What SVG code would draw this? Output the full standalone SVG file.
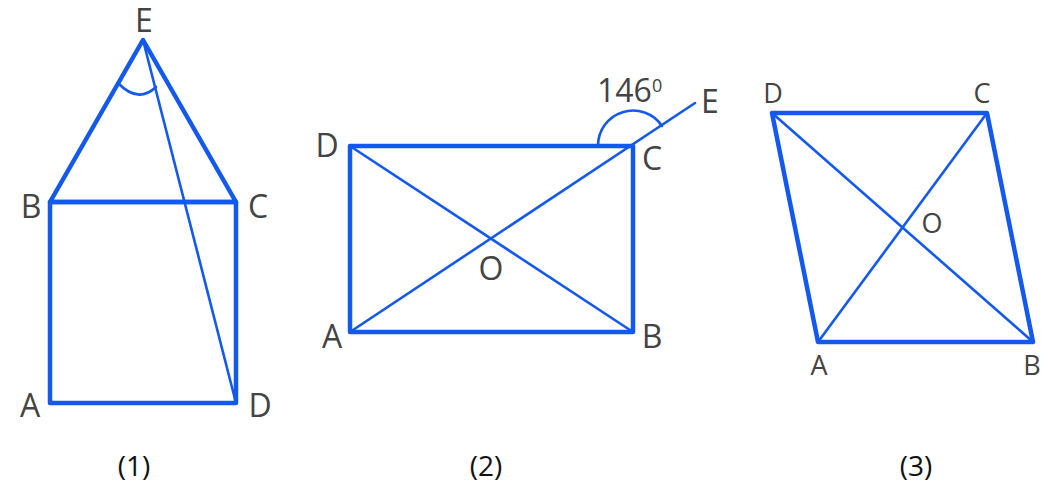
<svg xmlns="http://www.w3.org/2000/svg" width="1046" height="500" viewBox="0 0 1046 500">
<style>
.thick{stroke:#1459ee;stroke-width:4.5;fill:none;stroke-linejoin:round;stroke-linecap:round}
.thin{stroke:#1459ee;stroke-width:2.6;fill:none;stroke-linecap:round}
.lbl{font-family:"Open Sans","Liberation Sans",sans-serif;fill:#444;font-size:32px}
.lbl3{font-family:"Open Sans","Liberation Sans",sans-serif;fill:#444;font-size:27px}
.cap{font-family:"Open Sans","Liberation Sans",sans-serif;fill:#111;font-size:28px;text-anchor:middle}
</style>
<rect width="1046" height="500" fill="#fff"/>
<g id="connectors">
  <!-- figure 1 -->
  <polygon class="thick" points="50,202 143,40 236,202"/>
  <rect class="thick" x="50" y="202" width="186" height="201"/>
  <line class="thin" x1="143" y1="40" x2="236" y2="403"/>
  <path class="thin" d="M118,83 Q138,104 156,87"/>
  <!-- figure 2 -->
  <rect class="thick" x="350" y="146" width="283" height="186"/>
  <line class="thin" x1="350" y1="146" x2="633" y2="332"/>
  <line class="thin" x1="350" y1="332" x2="695" y2="103"/>
  <path class="thin" d="M598,146 A35,35 0 0 1 662,126"/>
  <!-- figure 3 -->
  <polygon class="thick" points="772,113 987,113 1033,342 818,342"/>
  <line class="thin" x1="772" y1="113" x2="1033" y2="342"/>
  <line class="thin" x1="818" y1="342" x2="987" y2="113"/>
</g>
<g id="fig1">
  <text class="lbl" x="144" y="32" text-anchor="middle">E</text>
  <text class="lbl" x="31" y="218" text-anchor="middle">B</text>
  <text class="lbl" x="258" y="218" text-anchor="middle">C</text>
  <text class="lbl" x="30" y="417" text-anchor="middle">A</text>
  <text class="lbl" x="260" y="417" text-anchor="middle">D</text>
  <text class="cap" x="134" y="476">(1)</text>
</g>
<g id="fig2">
  <text class="lbl" x="327" y="157" text-anchor="middle">D</text>
  <text class="lbl" x="652" y="170" text-anchor="middle">C</text>
  <text class="lbl" x="332" y="348" text-anchor="middle">A</text>
  <text class="lbl" x="652" y="348" text-anchor="middle">B</text>
  <text class="lbl" x="491" y="280" text-anchor="middle">O</text>
  <text class="lbl" x="710" y="113" text-anchor="middle">E</text>
  <text class="lbl" x="597" y="102">146<tspan font-size="18" dy="-10">0</tspan></text>
  <text class="cap" x="486" y="476">(2)</text>
</g>
<g id="fig3">
  <text class="lbl3" x="773" y="103" text-anchor="middle">D</text>
  <text class="lbl3" x="982" y="103" text-anchor="middle">C</text>
  <text class="lbl3" x="932" y="233" text-anchor="middle">O</text>
  <text class="lbl3" x="819" y="375" text-anchor="middle">A</text>
  <text class="lbl3" x="1032" y="375" text-anchor="middle">B</text>
  <text class="cap" x="916" y="476">(3)</text>
</g>
</svg>
